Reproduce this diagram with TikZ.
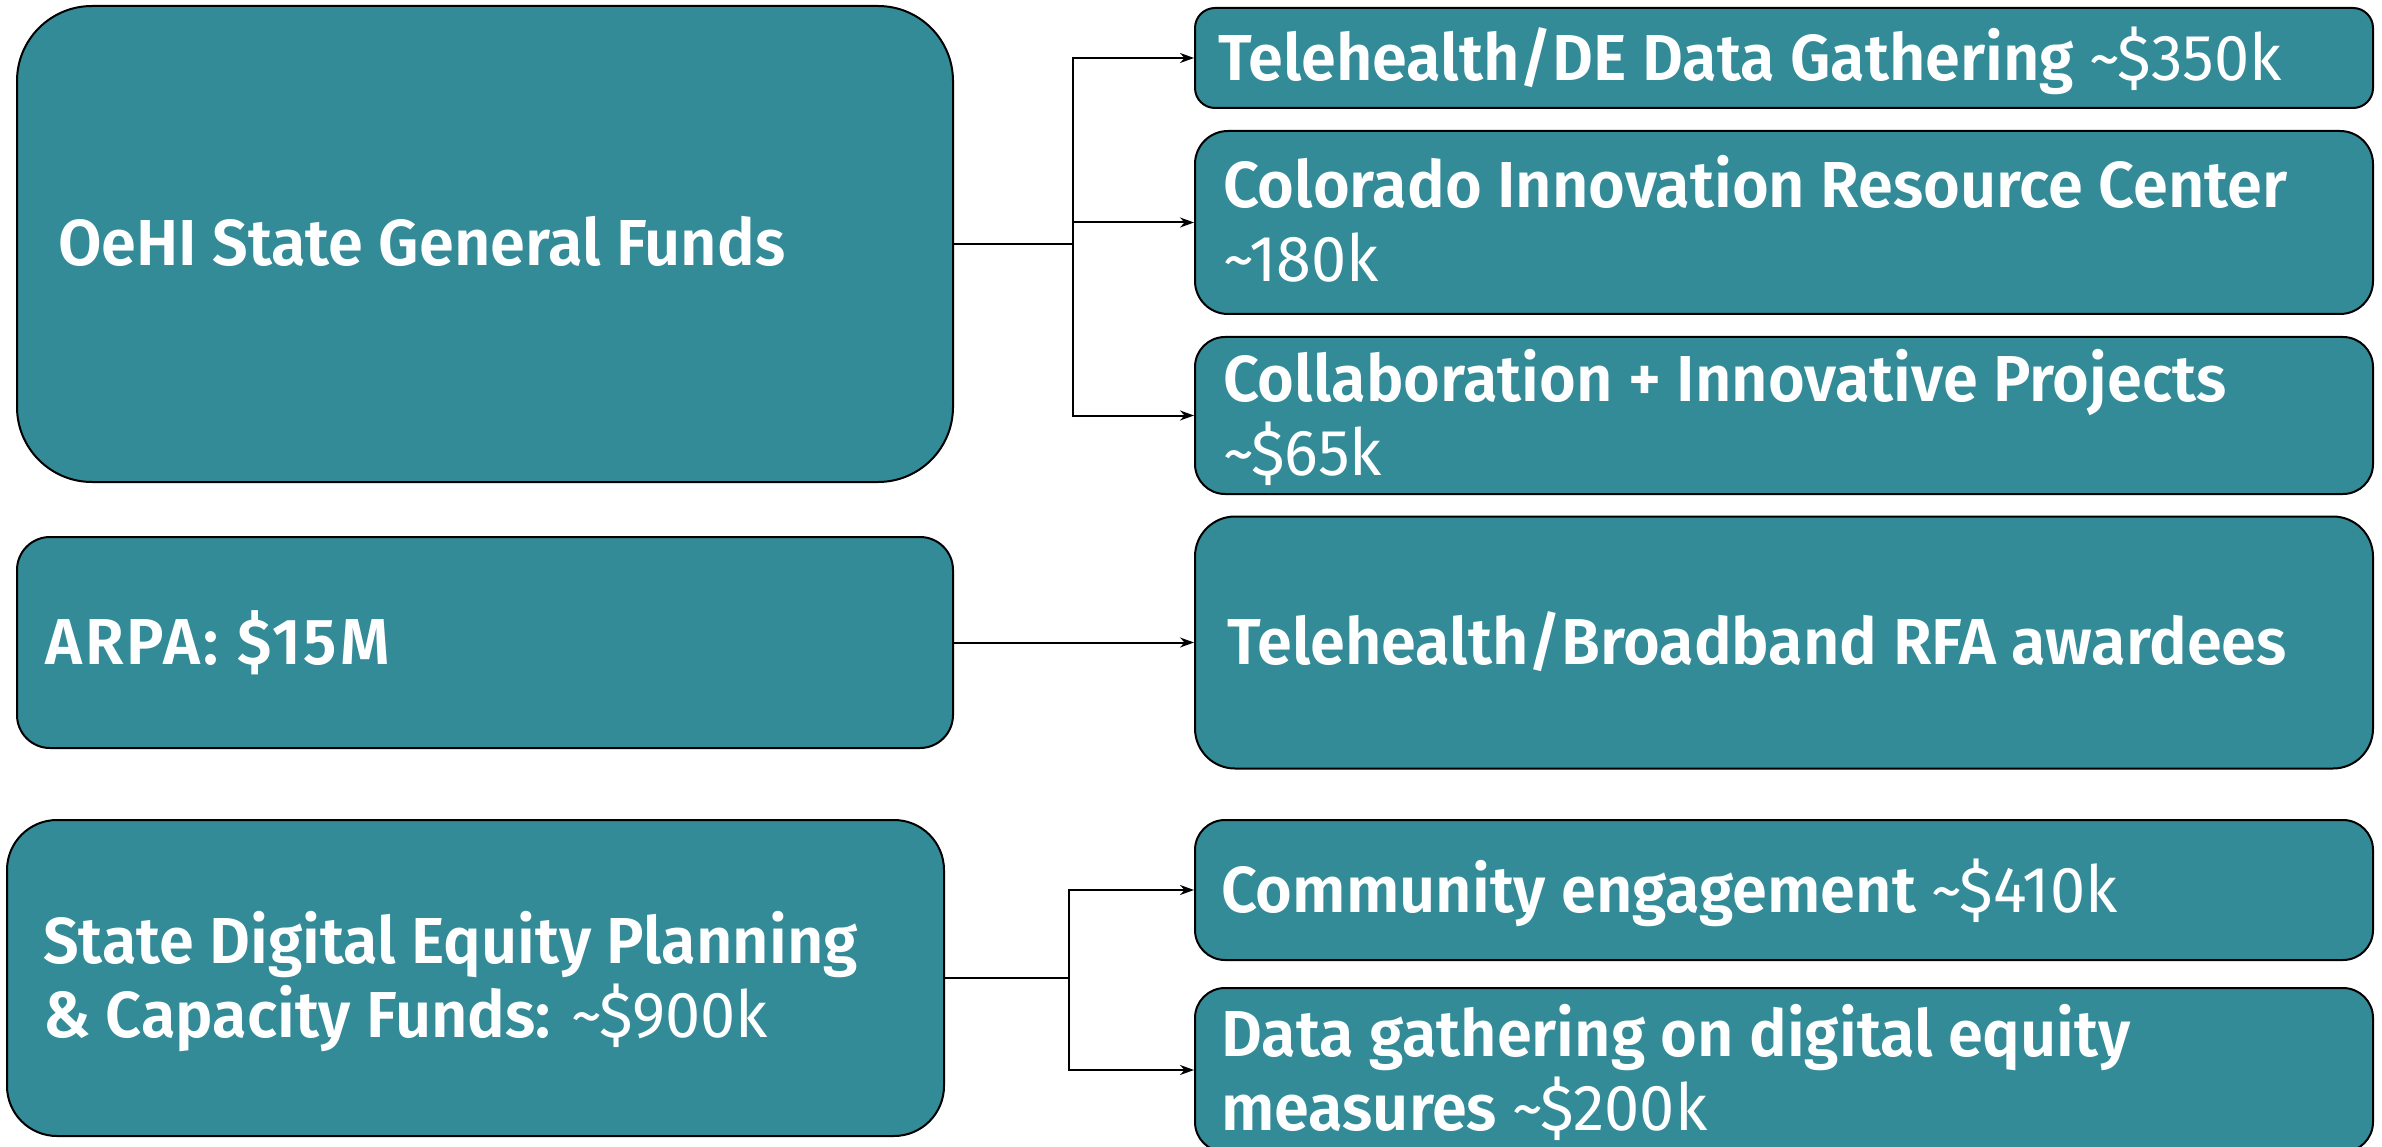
\documentclass[tikz,border=0pt]{standalone}
\usepackage{fontspec}
\setmainfont{Fira Sans}[BoldFont={Fira Sans SemiBold}, FakeStretch=0.97]
\usetikzlibrary{arrows.meta}
\definecolor{tealbox}{RGB}{51,139,152}
\begin{document}
\begin{tikzpicture}[x=1pt,y=-1pt,
  box/.style={draw=black, line width=2pt, fill=tealbox, inner sep=0pt},
  lbl/.style={text=white, anchor=base west, align=left, inner sep=0pt,
    font=\fontsize{65}{74}\selectfont},
  conn/.style={draw=black, line width=2pt},
  arr/.style={conn, -{Stealth[length=14pt,width=10pt]}}]
\useasboundingbox (0,0) rectangle (2382,1147);
% boxes
\node[box, rounded corners=75pt, minimum width=936pt, minimum height=476pt] (A) at (485,244) {};
\node[box, rounded corners=20pt, minimum width=1178pt, minimum height=100pt] (B1) at (1784,58) {};
\node[box, rounded corners=33pt, minimum width=1178pt, minimum height=183pt] (B2) at (1784,222.5) {};
\node[box, rounded corners=30pt, minimum width=1178pt, minimum height=157pt] (B3) at (1784,415.5) {};
\node[box, rounded corners=33pt, minimum width=936pt, minimum height=211pt] (C) at (485,642.5) {};
\node[box, rounded corners=40pt, minimum width=1178pt, minimum height=252pt] (D) at (1784,642.5) {};
\node[box, rounded corners=50pt, minimum width=937pt, minimum height=316pt] (E) at (475.5,978) {};
\node[box, rounded corners=30pt, minimum width=1178pt, minimum height=140pt] (F1) at (1784,890) {};
\node[box, rounded corners=30pt, minimum width=1178pt, minimum height=164pt] (F2) at (1784,1070) {};
% texts (multi-line nodes: base = last line)
\node[lbl] (tA) at (58,266) {\bfseries OeHI State General Funds};
\node[lbl] (tB1) at (1218,81) {\bfseries Telehealth/DE Data Gathering \mdseries\textasciitilde\$350k};
\node[lbl] (tB2) at (1223,282) {\bfseries Colorado Innovation Resource Center\\\mdseries\textasciitilde180k};
\node[lbl] (tB3) at (1223,475) {\bfseries Collaboration + Innovative Projects\\\mdseries\textasciitilde\$65k};
\node[lbl] (tC) at (45,664) {\bfseries\addfontfeatures{LetterSpace=4.5}ARPA: \$15M};
\node[lbl] (tD) at (1227,664) {\bfseries Telehealth/Broadband RFA awardees};
\node[lbl] (tE) at (43,1037) {\bfseries State Digital Equity Planning\\\bfseries \& Capacity Funds: \mdseries\textasciitilde\$900k};
\node[lbl] (tF1) at (1221,912) {\bfseries Community engagement \mdseries\textasciitilde\$410k};
\node[lbl] (tF2) at (1221,1130) {\bfseries Data gathering on digital equity\\\bfseries measures \mdseries\textasciitilde\$200k};
% connectors
\coordinate (jA) at (1073,244);
\coordinate (jE) at (1069,978);
\draw[conn] (A.east) -- (jA);
\draw[arr] (jA) |- (B1.west);
\draw[arr] (jA) |- (B2.west);
\draw[arr] (jA) |- (B3.west);
\draw[arr] (C.east) -- (D.west);
\draw[conn] (E.east) -- (jE);
\draw[arr] (jE) |- (F1.west);
\draw[arr] (jE) |- (F2.west);
\end{tikzpicture}
\end{document}
